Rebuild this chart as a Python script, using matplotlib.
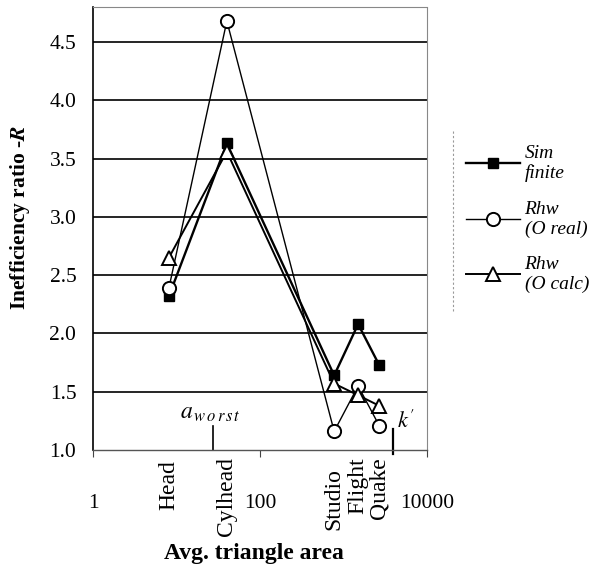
import numpy as np
import matplotlib.pyplot as plt

plt.rcParams['font.family'] = ['Liberation Serif', 'DejaVu Serif']
plt.rcParams['mathtext.fontset'] = 'stix'

# data
models = ['Head', 'Cylhead', 'Studio', 'Flight', 'Quake']
area = [8.1, 40.0, 770.0, 1490.0, 2660.0]
sim_finite = [2.32, 3.63, 1.64, 2.08, 1.73]
rhw_real = [2.39, 4.68, 1.16, 1.55, 1.21]
rhw_calc = [2.65, 3.56, 1.57, 1.47, 1.38]
a_worst = 27.4
k_prime = 3920.0
yticks = [1.0, 1.5, 2.0, 2.5, 3.0, 3.5, 4.0, 4.5]
xticks = [1, 100, 10000]
xticklabels = ['1', '100', '10000']

fig = plt.figure(figsize=(6, 5.65), dpi=100)
ax = fig.add_axes([0.155, 0.2035, 0.557, 0.784])

ax.set_xscale('log')
ax.set_xlim(1, 10000)
ax.set_ylim(1.0, 4.8)

for y in yticks[1:]:
    ax.axhline(y, color='black', lw=1.2, zorder=1)

ax.plot(area, sim_finite, color='black', lw=1.7, marker='s', ms=7,
        mfc='black', mec='black', label='Sim\nfinite', zorder=3)
ax.plot(area, rhw_real, color='black', lw=1.0, marker='o', ms=9.5,
        mfc='white', mec='black', mew=1.4, label='Rhw\n(O real)', zorder=4)
ax.plot(area, rhw_calc, color='black', lw=1.4, marker='^', ms=9.5,
        mfc='white', mec='black', mew=1.4, label='Rhw\n(O calc)', zorder=4)

# marker lines for a_worst and k'
ax.plot([a_worst, a_worst], [1.0, 1.21], color='black', lw=1.2, clip_on=False)
ax.plot([k_prime, k_prime], [0.97, 1.18], color='black', lw=1.6, clip_on=False)
ax.text(a_worst * 0.93, 1.27, r'$a_{\,w\,o\,r\,s\,t}$', fontsize=17,
        ha='center', va='baseline')
ax.text(k_prime * 1.12, 1.19, r"$k\,'$", fontsize=16, ha='left', va='baseline')

# spines
ax.spines['left'].set_color('black')
ax.spines['left'].set_linewidth(1.2)
for s in ['top', 'right']:
    ax.spines[s].set_color('#888888')
    ax.spines[s].set_linestyle((0, (2, 1)))
    ax.spines[s].set_linewidth(0.8)
ax.spines['bottom'].set_color('#555555')
ax.spines['bottom'].set_linestyle((0, (3, 1)))
ax.spines['bottom'].set_linewidth(1.0)

ax.set_yticks(yticks)
ax.set_yticklabels(['%.1f' % v for v in yticks], fontsize=15.5)
ax.tick_params(axis='y', length=0, pad=12)

ax.set_xticks(xticks)
ax.set_xticklabels(xticklabels, fontsize=15.5)
ax.xaxis.set_minor_locator(plt.NullLocator())
ax.tick_params(axis='x', length=5, direction='out', pad=27, color='#444444')

# category labels under the axis
drops = [10, 7, 18, 7, 7]
for name, x, d in zip(models, area, drops):
    ax.annotate(name, xy=(x, 0), xycoords=('data', 'axes fraction'),
                xytext=(0, -d * 0.72), textcoords='offset points',
                rotation=90, ha='center', va='top', fontsize=17)

ax.set_ylabel(r'Inefficiency ratio -$\mathbfit{R}$', fontsize=15.5,
              fontweight='bold')
ax.yaxis.set_label_coords(-0.183, 0.524)
fig.text(0.4225, 0.021, 'Avg. triangle area', fontsize=17, fontweight='bold',
         ha='center', va='center')

leg = fig.legend(loc='upper left', bbox_to_anchor=(0.777, 0.744), frameon=False,
                 prop={'style': 'italic', 'size': 14}, handlelength=2.75,
                 labelspacing=0.95, handletextpad=0.25, borderaxespad=0,
                 borderpad=0)
fig.add_artist(plt.Line2D([0.755, 0.755], [0.45, 0.77], color='#999999',
                          lw=0.8, ls=(0, (2, 2))))

fig.savefig('out.png', dpi=100)
